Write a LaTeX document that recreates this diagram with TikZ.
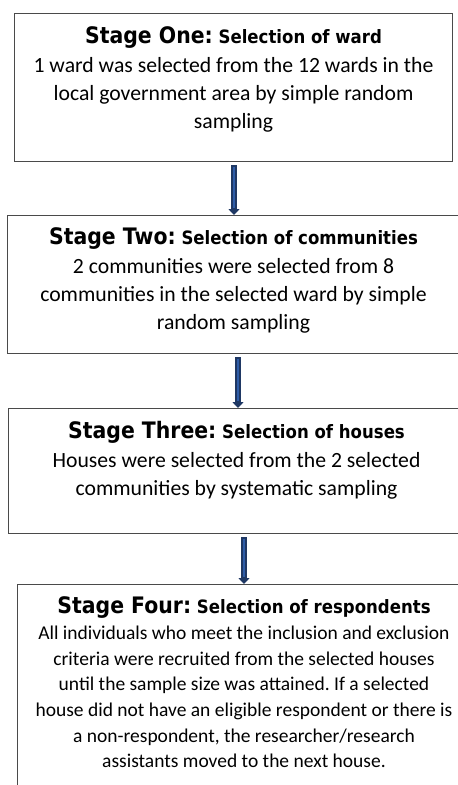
\documentclass[tikz,border=0pt]{standalone}
\usepackage{fontspec}
\setmainfont{Carlito}
\newfontfamily\headfont{DejaVu Sans}[FakeStretch=0.9]
\usetikzlibrary{arrows.meta}
\frenchspacing
\definecolor{arrowdark}{HTML}{1F3864}
\definecolor{arrowblue}{HTML}{2F5DA8}
\definecolor{boxline}{HTML}{4A4A4A}
\newcommand{\stagehead}[2]{{\headfont\bfseries\fontsize{22.7}{28}\selectfont #1\fontsize{18.4}{28}\selectfont\ #2}}
\begin{document}
\begin{tikzpicture}[x=1pt,y=-1pt,
  stagebox/.style={draw=boxline, line width=1pt, anchor=north west, inner sep=0pt, fill=white},
  stagetext/.style={align=center, anchor=north, inner sep=0pt, font=\fontsize{21.7}{28}\selectfont},
  flowouter/.style={draw=arrowdark, line width=5.5pt, -{Triangle[width=11pt,length=6pt]}, shorten <=3pt},
  flowinner/.style={draw=arrowblue, line width=2.6pt, shorten <=4.5pt, shorten >=7pt}
]
\useasboundingbox (0,0) rectangle (458,785);
\clip (0,0) rectangle (458,785);
\fill[white] (0,0) rectangle (458,785);

\node[stagebox, minimum width=438pt, minimum height=148pt] (b1) at (14,13) {};
\node[stagebox, minimum width=452pt, minimum height=138pt] (b2) at (7,215) {};
\node[stagebox, minimum width=456pt, minimum height=125pt] (b3) at (8,408) {};
\node[stagebox, minimum width=455pt, minimum height=216pt] (b4) at (17,584) {};

\node[stagetext] (t1) at ([yshift=-13pt]b1.north) {\stagehead{Stage One:}{Selection of ward}\\[1pt]
1 ward was selected from the 12 wards in the\\
local government area by simple random\\
sampling};
\node[stagetext] (t2) at ([yshift=-12pt]b2.north) {\stagehead{Stage Two:}{Selection of communities}\\[1pt]
2 communities were selected from 8\\
communities in the selected ward by simple\\
random sampling};
\node[stagetext] (t3) at ([yshift=-13pt]b3.north) {\stagehead{Stage Three:}{Selection of houses}\\[1pt]
Houses were selected from the 2 selected\\
communities by systematic sampling};
\node[stagetext, font=\fontsize{19.5}{25.6}\selectfont] (t4) at ([yshift=-12pt,xshift=-1pt]b4.north) {\stagehead{Stage Four:}{Selection of respondents}\\[1pt]
All individuals who meet the inclusion and exclusion\\
criteria were recruited from the selected houses\\
until the sample size was attained. If a selected\\
house did not have an eligible respondent or there is\\
a non-respondent, the researcher/research\\
assistants moved to the next house.};

\coordinate (x1) at (234,0);
\coordinate (x2) at (238,0);
\coordinate (x3) at (244,0);
\draw[flowouter] (b1.south -| x1) -- (b2.north -| x1);
\draw[flowinner] (b1.south -| x1) -- (b2.north -| x1);
\draw[flowouter] (b2.south -| x2) -- (b3.north -| x2);
\draw[flowinner] (b2.south -| x2) -- (b3.north -| x2);
\draw[flowouter] (b3.south -| x3) -- (b4.north -| x3);
\draw[flowinner] (b3.south -| x3) -- (b4.north -| x3);
\end{tikzpicture}
\end{document}
